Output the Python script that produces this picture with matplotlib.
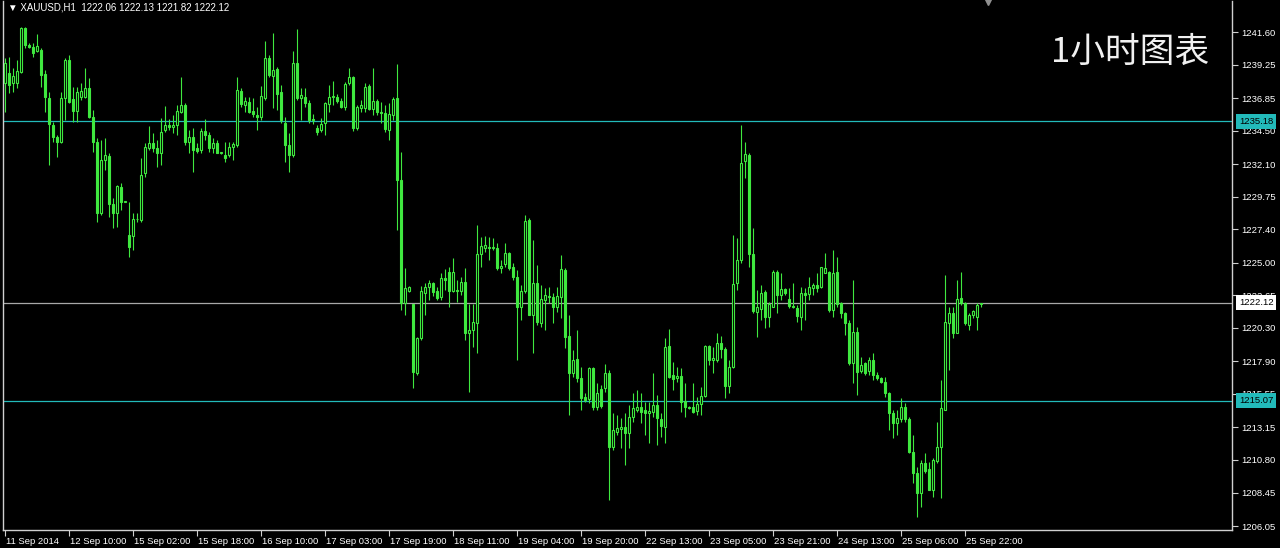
import matplotlib
matplotlib.use('Agg')
import matplotlib.pyplot as plt
import matplotlib.transforms as mtransforms
import numpy as np

# ---------------- data (XAUUSD H1) ----------------
opens = [1237.90, 1238.62, 1237.90, 1237.90, 1238.74, 1241.86, 1240.66, 1240.54, 1240.25, 1240.30,
         1238.57, 1236.82, 1234.91, 1234.07, 1233.71, 1236.82, 1239.58, 1236.75, 1235.94, 1236.94,
         1236.94, 1237.54, 1235.51, 1233.71, 1228.55, 1232.39, 1232.68, 1229.22, 1228.55, 1230.47,
         1229.39, 1226.99, 1226.94, 1228.12, 1228.07, 1231.43, 1233.23, 1233.64, 1233.23, 1232.92,
         1234.55, 1234.91, 1234.74, 1234.91, 1235.87, 1236.34, 1233.71, 1234.07, 1233.23, 1233.10,
         1234.47, 1234.18, 1233.22, 1233.58, 1232.91, 1232.74, 1232.74, 1233.29, 1233.46, 1237.37,
         1236.34, 1236.58, 1235.91, 1235.62, 1235.45, 1236.82, 1239.70, 1238.43, 1238.91, 1237.30,
         1235.07, 1233.46, 1232.74, 1239.34, 1236.82, 1236.94, 1236.46, 1235.33, 1234.66, 1234.54,
         1235.02, 1236.41, 1236.89, 1236.89, 1236.63, 1236.17, 1237.90, 1238.33, 1234.66, 1236.10,
         1236.10, 1237.71, 1236.03, 1236.65, 1235.86, 1235.79, 1234.54, 1235.62, 1236.83, 1230.95,
         1222.07, 1222.98, 1222.02, 1217.08, 1219.55, 1222.79, 1223.22, 1223.56, 1222.98, 1222.50,
         1223.87, 1224.35, 1222.98, 1223.03, 1222.98, 1223.63, 1219.96, 1220.15, 1220.68, 1225.62,
         1226.03, 1226.10, 1226.03, 1226.03, 1224.59, 1224.90, 1225.67, 1224.66, 1223.94, 1221.78,
         1222.98, 1228.07, 1221.23, 1223.51, 1220.68, 1222.31, 1222.55, 1222.55, 1221.78, 1222.55,
         1224.47, 1219.72, 1217.03, 1218.04, 1216.67, 1215.30, 1215.16, 1217.39, 1214.64, 1215.89,
         1215.96, 1217.04, 1211.76, 1212.84, 1213.01, 1213.20, 1212.77, 1213.92, 1214.40, 1214.64,
         1214.40, 1214.21, 1214.28, 1214.76, 1213.73, 1213.20, 1219.01, 1216.92, 1216.68, 1216.85,
         1215.07, 1214.64, 1214.64, 1214.35, 1214.83, 1215.41, 1219.01, 1218.00, 1218.00, 1219.25,
         1218.77, 1216.13, 1217.51, 1223.51, 1225.19, 1232.34, 1232.75, 1225.62, 1221.47, 1221.64,
         1222.91, 1221.06, 1221.83, 1224.35, 1222.67, 1223.08, 1222.36, 1221.88, 1221.71, 1221.11,
         1222.84, 1222.75, 1223.15, 1223.39, 1223.22, 1224.28, 1224.35, 1221.59, 1224.35, 1222.07,
         1221.35, 1220.68, 1217.75, 1220.03, 1217.23, 1217.75, 1217.23, 1217.99, 1216.91, 1216.67,
         1216.43, 1215.59, 1214.15, 1213.48, 1213.72, 1214.63, 1213.72, 1211.39, 1209.88, 1208.39,
         1210.55, 1210.12, 1208.67, 1210.75, 1211.75, 1214.43, 1220.68, 1221.35, 1219.96, 1222.43,
         1222.07, 1220.51, 1221.23, 1221.11, 1222.06]
highs = [1239.70, 1239.82, 1238.98, 1239.58, 1241.98, 1241.98, 1240.78, 1240.78, 1241.45, 1240.42,
         1238.86, 1237.30, 1235.15, 1234.19, 1237.30, 1239.70, 1239.94, 1237.66, 1237.66, 1237.90,
         1238.98, 1238.26, 1235.99, 1233.95, 1233.83, 1233.95, 1232.87, 1229.63, 1230.59, 1230.71,
         1229.44, 1229.39, 1228.55, 1228.55, 1232.51, 1233.59, 1234.84, 1234.31, 1233.83, 1235.39,
         1236.27, 1235.31, 1235.63, 1236.34, 1238.38, 1236.46, 1234.55, 1234.67, 1233.59, 1234.66,
         1235.31, 1234.42, 1233.94, 1233.82, 1232.98, 1233.70, 1233.70, 1233.70, 1238.38, 1237.54,
         1236.94, 1236.94, 1236.82, 1236.22, 1237.71, 1240.97, 1239.94, 1241.50, 1239.10, 1237.78,
         1235.50, 1234.30, 1240.25, 1241.79, 1237.54, 1237.54, 1236.70, 1235.69, 1234.90, 1235.38,
         1236.58, 1237.78, 1238.09, 1237.13, 1236.82, 1238.02, 1238.98, 1238.43, 1236.34, 1236.70,
         1237.90, 1237.85, 1238.98, 1236.75, 1236.58, 1236.34, 1236.46, 1236.94, 1239.29, 1232.99,
         1224.59, 1223.32, 1222.02, 1219.67, 1223.32, 1223.51, 1223.75, 1223.63, 1223.22, 1224.23,
         1224.52, 1224.71, 1225.31, 1223.75, 1223.99, 1224.59, 1222.02, 1222.02, 1227.71, 1226.87,
         1226.92, 1226.82, 1226.75, 1226.44, 1225.19, 1226.39, 1225.79, 1224.95, 1224.47, 1223.39,
         1228.43, 1228.19, 1226.63, 1224.83, 1223.39, 1223.15, 1223.27, 1222.79, 1223.22, 1225.55,
         1224.59, 1221.23, 1218.71, 1220.15, 1217.51, 1215.59, 1217.51, 1217.51, 1216.32, 1216.20,
         1217.71, 1217.28, 1214.16, 1214.04, 1213.80, 1214.16, 1214.76, 1215.60, 1215.84, 1215.60,
         1215.00, 1215.00, 1217.04, 1215.48, 1214.16, 1219.56, 1220.21, 1217.88, 1217.52, 1217.40,
         1216.32, 1214.69, 1216.32, 1215.36, 1216.08, 1219.08, 1219.08, 1218.96, 1219.92, 1219.73,
         1218.96, 1218.00, 1226.99, 1226.75, 1234.91, 1233.71, 1232.87, 1227.47, 1223.03, 1223.39,
         1223.03, 1222.19, 1224.47, 1224.47, 1224.23, 1223.15, 1223.15, 1223.51, 1221.95, 1223.27,
         1223.15, 1223.99, 1223.51, 1224.23, 1224.71, 1225.67, 1224.42, 1225.91, 1225.43, 1222.19,
         1221.47, 1220.87, 1223.75, 1220.39, 1218.23, 1217.87, 1218.23, 1218.47, 1217.15, 1216.79,
         1216.79, 1215.71, 1214.39, 1214.39, 1215.23, 1214.87, 1213.91, 1212.59, 1210.31, 1210.79,
         1211.27, 1210.67, 1210.91, 1213.55, 1216.55, 1224.11, 1221.83, 1221.83, 1223.75, 1224.35,
         1222.19, 1221.35, 1221.59, 1222.07, 1222.13]
lows = [1235.87, 1237.18, 1237.30, 1237.54, 1238.62, 1240.42, 1240.42, 1239.82, 1240.18, 1237.66,
        1235.87, 1232.03, 1233.71, 1232.63, 1233.59, 1235.27, 1236.46, 1235.15, 1235.15, 1236.70,
        1236.82, 1235.39, 1232.99, 1227.95, 1228.43, 1231.67, 1228.31, 1227.47, 1227.59, 1228.79,
        1229.34, 1225.43, 1225.91, 1227.95, 1227.95, 1231.19, 1233.11, 1232.99, 1231.91, 1232.03,
        1234.43, 1234.55, 1234.31, 1234.19, 1235.75, 1233.47, 1232.87, 1231.55, 1232.87, 1232.86,
        1233.82, 1232.98, 1232.91, 1232.86, 1232.81, 1232.26, 1232.62, 1232.38, 1233.34, 1236.22,
        1235.86, 1235.74, 1235.50, 1234.54, 1235.26, 1236.70, 1238.38, 1236.10, 1235.98, 1235.02,
        1232.26, 1231.54, 1232.62, 1236.70, 1235.26, 1236.17, 1235.02, 1234.97, 1234.18, 1234.42,
        1234.18, 1235.86, 1236.34, 1236.46, 1236.10, 1235.98, 1237.78, 1234.49, 1234.54, 1235.86,
        1235.86, 1235.98, 1235.62, 1235.62, 1235.02, 1234.42, 1233.82, 1235.26, 1227.35, 1221.59,
        1221.23, 1222.91, 1215.95, 1216.91, 1219.43, 1221.23, 1222.31, 1222.60, 1222.31, 1222.31,
        1223.03, 1221.83, 1222.91, 1222.19, 1222.67, 1219.43, 1215.71, 1218.95, 1218.47, 1224.71,
        1225.79, 1225.19, 1225.91, 1224.47, 1224.23, 1224.71, 1224.47, 1223.75, 1217.99, 1220.87,
        1222.79, 1221.23, 1218.47, 1220.51, 1220.39, 1220.15, 1222.07, 1220.63, 1221.47, 1220.99,
        1218.83, 1214.03, 1216.79, 1216.43, 1214.39, 1214.99, 1214.87, 1214.39, 1214.40, 1214.52,
        1215.72, 1207.92, 1211.52, 1212.60, 1211.64, 1210.44, 1211.64, 1213.56, 1214.28, 1213.44,
        1212.60, 1212.00, 1213.92, 1211.88, 1212.48, 1212.00, 1216.68, 1215.84, 1216.44, 1214.28,
        1213.92, 1214.50, 1214.16, 1214.04, 1214.04, 1215.36, 1217.64, 1217.04, 1217.88, 1218.12,
        1215.24, 1215.60, 1217.39, 1223.03, 1224.95, 1231.07, 1224.71, 1221.35, 1219.67, 1220.87,
        1220.27, 1220.39, 1221.78, 1221.35, 1222.31, 1222.67, 1221.71, 1221.71, 1220.75, 1220.15,
        1220.87, 1222.31, 1222.67, 1222.91, 1223.15, 1224.23, 1221.47, 1221.11, 1221.83, 1221.00,
        1219.79, 1217.63, 1216.31, 1215.47, 1217.03, 1216.91, 1216.91, 1216.55, 1216.55, 1216.31,
        1215.35, 1212.95, 1212.35, 1212.59, 1213.55, 1213.55, 1211.27, 1209.11, 1206.71, 1207.43,
        1209.83, 1208.63, 1208.15, 1210.55, 1208.03, 1214.39, 1217.27, 1219.55, 1219.91, 1221.95,
        1220.51, 1220.15, 1220.99, 1220.15, 1221.82]
closes = [1239.34, 1237.78, 1238.43, 1238.81, 1241.86, 1240.66, 1240.54, 1240.06, 1240.59, 1238.50,
          1236.89, 1234.98, 1234.07, 1233.71, 1236.82, 1239.58, 1236.58, 1235.94, 1237.30, 1237.35,
          1237.54, 1235.46, 1233.71, 1228.55, 1232.39, 1232.75, 1229.22, 1228.55, 1230.52, 1229.39,
          1229.39, 1226.15, 1228.12, 1228.12, 1231.31, 1233.35, 1233.64, 1233.23, 1232.92, 1234.43,
          1234.91, 1234.74, 1234.91, 1235.94, 1236.34, 1233.71, 1234.07, 1233.11, 1233.04, 1234.47,
          1234.18, 1233.22, 1233.63, 1232.91, 1232.91, 1232.50, 1233.29, 1233.53, 1237.42, 1236.39,
          1236.65, 1235.86, 1235.67, 1235.50, 1236.99, 1239.70, 1238.50, 1238.86, 1237.13, 1235.26,
          1233.46, 1232.74, 1239.34, 1236.82, 1237.06, 1236.46, 1235.26, 1235.26, 1234.42, 1234.97,
          1236.46, 1236.89, 1236.99, 1236.65, 1236.22, 1237.85, 1238.33, 1234.66, 1236.17, 1236.34,
          1237.66, 1236.03, 1236.65, 1235.86, 1235.74, 1234.59, 1235.69, 1236.75, 1230.95, 1222.07,
          1223.15, 1223.22, 1217.15, 1219.60, 1222.98, 1223.22, 1223.56, 1222.91, 1222.43, 1223.87,
          1223.75, 1222.98, 1224.35, 1222.98, 1223.63, 1219.91, 1220.15, 1220.75, 1225.62, 1226.20,
          1226.27, 1226.03, 1226.10, 1224.59, 1224.76, 1225.67, 1224.59, 1223.94, 1221.83, 1222.98,
          1228.02, 1221.23, 1223.51, 1220.75, 1222.36, 1222.67, 1222.62, 1221.83, 1222.60, 1224.52,
          1219.67, 1217.03, 1217.99, 1216.67, 1215.23, 1215.11, 1217.39, 1214.63, 1215.60, 1214.69,
          1217.09, 1211.76, 1212.96, 1213.08, 1213.20, 1212.77, 1213.92, 1214.52, 1214.64, 1214.28,
          1214.16, 1214.33, 1214.76, 1213.80, 1213.25, 1218.96, 1216.80, 1216.63, 1216.85, 1215.00,
          1214.59, 1214.54, 1214.28, 1214.83, 1215.41, 1219.01, 1218.00, 1218.12, 1219.25, 1218.77,
          1216.13, 1217.47, 1223.46, 1225.19, 1232.15, 1232.82, 1225.62, 1221.54, 1221.83, 1222.84,
          1221.06, 1222.02, 1224.35, 1222.67, 1223.08, 1222.84, 1221.88, 1221.78, 1221.16, 1222.84,
          1222.67, 1223.22, 1223.39, 1223.15, 1224.66, 1224.59, 1221.59, 1224.28, 1222.02, 1221.35,
          1220.63, 1217.75, 1220.03, 1217.15, 1217.63, 1217.08, 1217.99, 1216.91, 1216.67, 1216.43,
          1215.59, 1214.15, 1213.48, 1213.79, 1214.63, 1213.72, 1211.39, 1209.88, 1208.39, 1210.55,
          1210.02, 1208.67, 1210.79, 1211.75, 1214.51, 1220.75, 1221.35, 1219.91, 1222.36, 1222.12,
          1220.63, 1221.23, 1221.54, 1221.95, 1222.12]

date_labels = ["11 Sep 2014", "12 Sep 10:00", "15 Sep 02:00", "15 Sep 18:00", "16 Sep 10:00",
               "17 Sep 03:00", "17 Sep 19:00", "18 Sep 11:00", "19 Sep 04:00", "19 Sep 20:00",
               "22 Sep 13:00", "23 Sep 05:00", "23 Sep 21:00", "24 Sep 13:00", "25 Sep 06:00",
               "25 Sep 22:00"]
date_label_bars = [0, 16, 32, 48, 64, 80, 96, 112, 128, 144, 160, 176, 192, 208, 224, 240]
price_ticks = [1241.60, 1239.25, 1236.85, 1234.50, 1232.10, 1229.75, 1227.40, 1225.00,
               1222.65, 1220.30, 1217.90, 1215.55, 1213.15, 1210.80, 1208.45, 1206.05]
level_lines = [1235.18, 1215.07]
bid_price = 1222.12
symbol = "XAUUSD,H1"
title_cn = "1小时图表"

# ---------------- style ----------------
GREEN = '#3fe83f'
CYAN = '#22baba'
GREY = '#a8a8a8'
FRAME = '#d0d0d0'
W, Hpx = 1280, 548

fig = plt.figure(figsize=(W / 100, Hpx / 100), dpi=100, facecolor='black')
left_px, right_px, top_px, bottom_px = 3, 1232, 1, 530
ax = fig.add_axes([left_px / W, 1 - bottom_px / Hpx, (right_px - left_px) / W, (bottom_px - top_px) / Hpx])
ax.set_facecolor('black')

O = np.array(opens); Hh = np.array(highs); L = np.array(lows); C = np.array(closes)
x = np.arange(len(O))
up = C >= O
body_lo = np.minimum(O, C)
body_h = np.maximum(np.abs(C - O), 0.04)

ax.vlines(x, L, Hh, color=GREEN, lw=0.8, zorder=2)
ax.bar(x[up], body_h[up], bottom=body_lo[up], width=0.62, facecolor='black',
       edgecolor=GREEN, linewidth=0.8, zorder=3)
ax.bar(x[~up], body_h[~up], bottom=body_lo[~up], width=0.62, facecolor=GREEN,
       edgecolor=GREEN, linewidth=0.8, zorder=3)

for lv in level_lines:
    ax.axhline(lv, color=CYAN, lw=0.9, zorder=1)
ax.axhline(bid_price, color=GREY, lw=0.9, zorder=1)

ax.set_xlim((left_px - 5) / 4, (right_px - 5) / 4)
ax.set_ylim(1241.60 - (bottom_px - 32) / 13.896, 1241.60 + (32 - top_px) / 13.896)

# frame
for s in ['left', 'right', 'bottom']:
    ax.spines[s].set_color(FRAME)
    ax.spines[s].set_linewidth(1.0)
ax.spines['top'].set_visible(False)

tick_font = {'family': ['Liberation Sans', 'DejaVu Sans'], 'size': 6.8}

ax.yaxis.tick_right()
ax.set_yticks(price_ticks)
ax.set_yticklabels([f"{p:.2f}" for p in price_ticks], fontdict=tick_font)
ax.tick_params(axis='y', colors=FRAME, labelcolor='white', direction='out', length=4, width=0.8, pad=3)

ax.set_xticks(date_label_bars)
ax.set_xticklabels(date_labels, fontdict=tick_font)
ax.tick_params(axis='x', colors=FRAME, labelcolor='white', direction='out', length=4, width=0.8, pad=1)
off = mtransforms.ScaledTranslation(1.5 / 100, 0, fig.dpi_scale_trans)
for lab in ax.get_xticklabels():
    lab.set_horizontalalignment('left')
    lab.set_transform(lab.get_transform() + off)

# price tags on the right scale
tag_tr = mtransforms.blended_transform_factory(ax.transAxes, ax.transData)
tx = 1 + 7 / (right_px - left_px)
for lv in level_lines:
    ax.text(tx, lv, f"{lv:.2f}", transform=tag_tr, ha='left', va='center', color='black',
            fontdict=tick_font, zorder=10, clip_on=False,
            bbox=dict(facecolor=CYAN, edgecolor='none', boxstyle='square,pad=0.3'))
ax.text(tx, bid_price, f"{bid_price:.2f}", transform=tag_tr, ha='left', va='center', color='black',
        fontdict=tick_font, zorder=10, clip_on=False,
        bbox=dict(facecolor='white', edgecolor='none', boxstyle='square,pad=0.3'))

# header
fig.text(8 / W, 1 - 8 / Hpx,
         f"\u25bc {symbol}  {opens[-1]:.2f} {highs[-1]:.2f} {lows[-1]:.2f} {closes[-1]:.2f}",
         color='white', ha='left', va='center', fontsize=7,
         family=['Liberation Sans', 'DejaVu Sans'])

# chart-shift marker
ax.plot([245.8], [1], transform=mtransforms.blended_transform_factory(ax.transData, ax.transAxes),
        marker='v', markersize=6, color='#909090', clip_on=False, zorder=10)

# big label
ax.text((1130 - left_px) / (right_px - left_px), 1 - (52 - top_px) / (bottom_px - top_px),
        title_cn, transform=ax.transAxes, ha='center', va='center', color='#f0f0f0',
        fontsize=25, family=['Noto Sans CJK SC', 'DejaVu Sans'], fontweight='light')

fig.savefig('out.png', dpi=100, facecolor='black')
